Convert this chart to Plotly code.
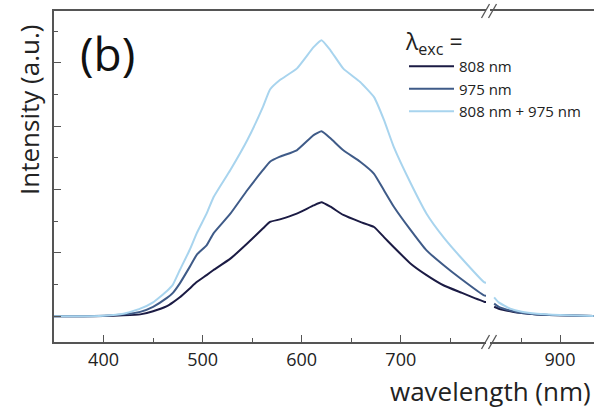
import plotly.graph_objects as go

# ---- data ----
wl_vis = [350, 380, 400, 420, 437, 450, 464, 470, 477, 487, 494, 504, 511, 528, 545, 561, 568,
          578, 595, 612, 620, 629, 642, 659, 673, 683, 693, 710, 726, 743, 760, 784, 788]
i808_vis = [0, 0, 0.005, 0.015, 0.03, 0.08, 0.16, 0.22, 0.30, 0.44, 0.54, 0.65, 0.73, 0.91, 1.15, 1.39, 1.49,
            1.53, 1.62, 1.75, 1.80, 1.73, 1.60, 1.49, 1.41, 1.25, 1.09, 0.83, 0.65, 0.49, 0.38, 0.23, 0.22]
i975_vis = [0, 0, 0.01, 0.03, 0.07, 0.15, 0.29, 0.37, 0.52, 0.78, 0.97, 1.12, 1.31, 1.62, 1.99, 2.31, 2.44,
            2.52, 2.62, 2.86, 2.92, 2.81, 2.62, 2.44, 2.25, 1.99, 1.73, 1.36, 1.04, 0.81, 0.60, 0.33, 0.32]
iboth_vis = [0, 0, 0.01, 0.04, 0.12, 0.22, 0.40, 0.50, 0.73, 1.05, 1.31, 1.62, 1.88, 2.31, 2.78, 3.31, 3.58,
             3.73, 3.91, 4.25, 4.36, 4.20, 3.91, 3.70, 3.46, 3.10, 2.67, 2.10, 1.62, 1.25, 0.94, 0.54, 0.52]

wl_nir = [814, 820, 835, 850, 870, 900, 944]
i808_nir = [0.15, 0.12, 0.08, 0.05, 0.03, 0.015, 0.005]
i975_nir = [0.20, 0.15, 0.09, 0.05, 0.03, 0.015, 0.005]
iboth_nir = [0.30, 0.22, 0.12, 0.07, 0.04, 0.02, 0.005]

names = ["808 nm", "975 nm", "808 nm + 975 nm"]
colors = ["#1b1b44", "#3f5b88", "#a8d4ee"]

W, H = 594, 408
ML, MR, MT, MB = 54, 0, 11, 66
D1 = 0.800
D2 = 0.808
pw, ph = W - ML - MR, H - MT - MB


def px(x):
    return (x - ML) / pw


def py(y):
    return 1 - (y - MT) / ph


fig = go.Figure()
series_vis = [i808_vis, i975_vis, iboth_vis]
series_nir = [i808_nir, i975_nir, iboth_nir]
for k in range(3):
    fig.add_trace(go.Scatter(x=wl_vis, y=series_vis[k], mode="lines", name=names[k],
                             line=dict(color=colors[k], width=2, shape="spline", smoothing=0.4),
                             xaxis="x", yaxis="y", legendgroup=names[k]))
    fig.add_trace(go.Scatter(x=wl_nir, y=series_nir[k], mode="lines", name=names[k],
                             line=dict(color=colors[k], width=2, shape="spline", smoothing=0.4),
                             xaxis="x2", yaxis="y", legendgroup=names[k], showlegend=False))

axcol = "#555555"
tickfont = dict(family="Open Sans", size=18, color="#222222")
common_x = dict(showline=True, linecolor=axcol, linewidth=1.5, mirror=True, ticks="inside",
                ticklen=7, tickwidth=1.2, tickcolor=axcol, showgrid=False, zeroline=False,
                tickfont=tickfont, ticklabelstandoff=1,
                minor=dict(ticks="inside", ticklen=4, tickwidth=1.2,
                           tickcolor=axcol, dtick=50, showgrid=False))
fig.update_layout(
    width=W, height=H,
    margin=dict(l=ML, r=MR, t=MT, b=MB, autoexpand=False),
    paper_bgcolor="white", plot_bgcolor="white",
    xaxis=dict(domain=[0, D1], range=[350, 786], tickvals=[400, 500, 600, 700], **common_x),
    xaxis2=dict(domain=[D2, 1], range=[809, 944.4], tickvals=[900], anchor="y", **common_x),
    yaxis=dict(range=[-0.406, 4.82], showline=True, linecolor=axcol, linewidth=1.5,
               ticks="inside", ticklen=7, tickwidth=1.2, tickcolor=axcol,
               tickvals=[0, 1, 2, 3, 4], showticklabels=False, showgrid=False, zeroline=False,
               minor=dict(ticks="inside", ticklen=4, tickwidth=1.2, tickcolor=axcol,
                          tickvals=[0.5, 1.5, 2.5, 3.5, 4.5], showgrid=False)),
    showlegend=True,
    legend=dict(x=px(404), y=py(20), xanchor="left", yanchor="top", bgcolor="rgba(0,0,0,0)",
                font=dict(family="Open Sans", size=15, color="#222222"),
                title=dict(text="λ<sub>exc</sub> =", font=dict(family="Open Sans", size=23, color="#222222")),
                tracegroupgap=0, itemwidth=45),
    annotations=[
        dict(text="(b)", x=px(107), y=py(53), xref="paper", yref="paper", xanchor="center", yanchor="middle",
             showarrow=False, font=dict(family="Open Sans", size=46, color="#111111")),
        dict(text="Intensity (a.u.)", x=px(29), y=py(110), xref="paper", yref="paper", showarrow=False,
             xanchor="center", yanchor="middle",
             textangle=-90, font=dict(family="Open Sans", size=26, color="#222222")),
        dict(text="wavelength (nm)", x=px(593), y=py(391), xref="paper", yref="paper", showarrow=False,
             xanchor="right", yanchor="middle", font=dict(family="Open Sans", size=26, color="#222222")),
    ],
)

# break marks "//" on top and bottom axis lines
xb = px(489)
dx, dy = 4 / pw, 7 / ph
shapes = []
for yb in (1.0, 0.0):
    for off in (-3.5 / pw, 3.5 / pw):
        shapes.append(dict(type="line", xref="paper", yref="paper",
                           x0=xb + off - dx, y0=yb - dy, x1=xb + off + dx, y1=yb + dy,
                           line=dict(color=axcol, width=1.3)))
fig.update_layout(shapes=shapes)

fig.write_html("out.html", config={"displayModeBar": False},
               post_script="document.body.style.margin='0';document.body.style.overflow='hidden';")
